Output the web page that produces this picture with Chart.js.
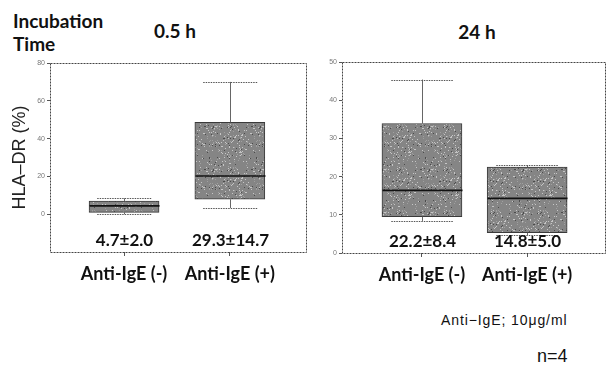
<!DOCTYPE html>
<html>
<head>
<meta charset="utf-8">
<script src="https://cdn.jsdelivr.net/npm/chart.js@4.4.1/dist/chart.umd.min.js"></script>
<style>
  body { margin: 0; background: #fff; width: 606px; height: 369px; position: relative; overflow: hidden; }
  .t { position: absolute; color: #111; white-space: nowrap; font-family: Lato, sans-serif; }
  .b { font-weight: bold; font-size: 19px; line-height: 23px; }
  canvas { position: absolute; top: 0; }
</style>
</head>
<body>
<div class="t b" style="left:13px;top:9px">Incubation<br>Time</div>
<div class="t b" style="left:125px;top:19px;width:100px;text-align:center">0.5 h</div>
<div class="t b" style="left:427px;top:20px;width:100px;text-align:center">24 h</div>
<div class="t" style="left:441px;top:312px;font-family:'Liberation Sans';font-size:14px;letter-spacing:0.9px">Anti&minus;IgE; 10&mu;g/ml</div>
<div class="t" style="left:537px;top:346px;font-family:'Liberation Sans';font-size:18px">n=4</div>
<canvas id="c1" width="310" height="300" style="left:0"></canvas>
<canvas id="c2" width="296" height="300" style="left:310px"></canvas>
<script>
const categories = ['Anti-IgE (-)', 'Anti-IgE (+)'];

// 0.5 h
const min05 = [0, 3.3];
const q1_05 = [1.0, 7.9];
const med05 = [4.4, 20.2];
const q3_05 = [7.0, 48.6];
const max05 = [8.4, 70];
const meanSd05 = ['4.7\u00b12.0', '29.3\u00b114.7'];
const yTicks05 = [0, 20, 40, 60, 80];

// 24 h
const min24 = [8.4, 4.7];
const q1_24 = [9.5, 5.3];
const med24 = [16.4, 14.3];
const q3_24 = [33.9, 22.5];
const max24 = [45.4, 23.0];
const meanSd24 = ['22.2\u00b18.4', '14.8\u00b15.0'];
const yTicks24 = [0, 10, 20, 30, 40, 50];

// grey speckled fill like the scanned boxes (fixed hash, no randomness)
function speckle() {
  const w = 47, hgt = 43;
  const p = document.createElement('canvas');
  p.width = w; p.height = hgt;
  const g = p.getContext('2d');
  g.fillStyle = '#858585';
  g.fillRect(0, 0, w, hgt);
  for (let i = 0; i < w; i++) {
    for (let j = 0; j < hgt; j++) {
      let h = Math.imul(i * 31 + j * 977 + 12345, 2654435761) >>> 0;
      h = ((h ^ (h >>> 15)) >>> 0) % 100;
      let c = null;
      if (h < 5) c = '#c6c6c6';
      else if (h < 8) c = '#4c4c4c';
      else if (h < 12) c = '#a0a0a0';
      if (c) { g.fillStyle = c; g.fillRect(i, j, 1, 1); }
    }
  }
  return g.createPattern(p, 'repeat');
}

// whiskers, medians, mean±SD notes and the dotted frame
function boxParts(mins, meds, maxs, notes) {
  return {
    id: 'boxParts',
    afterDatasetsDraw(chart) {
      const { ctx, chartArea: a, scales: { x, y } } = chart;
      const meta = chart.getDatasetMeta(0);
      ctx.save();
      meta.data.forEach((bar, i) => {
        const cx = Math.round(x.getPixelForValue(i)) + 0.5;
        const half = bar.width / 2;
        const cap = half * 0.78;
        const top = Math.min(bar.y, bar.base), bot = Math.max(bar.y, bar.base);
        // vertical whiskers
        ctx.setLineDash([]);
        ctx.strokeStyle = '#666';
        ctx.lineWidth = 1;
        ctx.beginPath();
        ctx.moveTo(cx, y.getPixelForValue(maxs[i])); ctx.lineTo(cx, top);
        ctx.moveTo(cx, bot); ctx.lineTo(cx, y.getPixelForValue(mins[i]));
        ctx.stroke();
        // caps
        ctx.setLineDash([1.5, 1]);
        ctx.strokeStyle = '#555';
        ctx.beginPath();
        [maxs[i], mins[i]].forEach(v => {
          const py = Math.round(y.getPixelForValue(v)) + 0.5;
          ctx.moveTo(cx - cap, py); ctx.lineTo(cx + cap, py);
        });
        ctx.stroke();
        // median
        ctx.setLineDash([]);
        ctx.strokeStyle = '#111';
        ctx.lineWidth = 1.6;
        ctx.beginPath();
        const my = y.getPixelForValue(meds[i]);
        ctx.moveTo(cx - half, my); ctx.lineTo(cx + half, my);
        ctx.stroke();
        // mean ± SD
        ctx.fillStyle = '#111';
        ctx.font = 'bold 17px Lato';
        ctx.textAlign = 'center';
        ctx.textBaseline = 'middle';
        ctx.fillText(notes[i], cx, a.bottom - 11);
      });
      // frame
      ctx.setLineDash([2, 1]);
      ctx.strokeStyle = '#444';
      ctx.lineWidth = 1;
      ctx.strokeRect(Math.round(a.left) + 0.5, Math.round(a.top) + 0.5,
        Math.round(a.right - a.left), Math.round(a.bottom - a.top));
      ctx.restore();
    }
  };
}

function makeChart(id, d) {
  const canvas = document.getElementById(id);
  const fill = speckle();
  return new Chart(canvas, {
    type: 'bar',
    data: {
      datasets: [{
        data: categories.map((c, i) => ({ x: i, y: [d.q1[i], d.q3[i]] })),
        backgroundColor: fill,
        borderColor: '#3a3a3a',
        borderWidth: 1,
        borderSkipped: false,
        barThickness: d.barW
      }]
    },
    options: {
      responsive: false,
      animation: false,
      layout: { padding: d.pad },
      plugins: { legend: { display: false }, tooltip: { enabled: false } },
      scales: {
        x: {
          type: 'linear',
          offset: false,
          min: d.xMin,
          max: d.xMax,
          afterBuildTicks: s => { s.ticks = categories.map((c, i) => ({ value: i })); },
          afterFit: s => { s.height = d.xH; },
          ticks: {
            callback: v => categories[v],
            autoSkip: false,
            maxRotation: 0,
            padding: 7,
            color: '#111',
            font: { family: 'Lato', weight: 'bold', size: 18 }
          },
          grid: { offset: false, drawOnChartArea: false, tickLength: 4, color: '#555' },
          border: { display: false }
        },
        y: {
          min: d.yMin,
          max: d.yMax,
          afterBuildTicks: s => { s.ticks = d.yTicks.map(v => ({ value: v })); },
          afterFit: s => { s.width = d.yW; },
          ticks: { padding: 2, color: '#777', font: { family: 'Liberation Sans', size: 7 } },
          grid: { drawOnChartArea: false, tickLength: 3, color: '#555' },
          border: { display: false },
          title: {
            display: d.yTitle !== '',
            text: d.yTitle,
            color: '#222',
            padding: { top: 9, bottom: 0 },
            font: { family: 'Liberation Sans', size: 18 }
          }
        }
      }
    },
    plugins: [boxParts(d.min, d.med, d.max, d.notes)]
  });
}

makeChart('c1', {
  min: min05, q1: q1_05, med: med05, q3: q3_05, max: max05, notes: meanSd05,
  yTicks: yTicks05, yMin: -20, yMax: 80, yTitle: 'HLA\u2013DR (%)',
  xMin: -0.7, xMax: 1.72, barW: 70, pad: { top: 63, right: 4, left: 0, bottom: 0 },
  yW: 50, xH: 48
});

makeChart('c2', {
  min: min24, q1: q1_24, med: med24, q3: q3_24, max: max24, notes: meanSd24,
  yTicks: yTicks24, yMin: 0, yMax: 50, yTitle: '',
  xMin: -0.76, xMax: 1.74, barW: 80, pad: { top: 62, right: 1, left: 0, bottom: 0 },
  yW: 32, xH: 47
});
</script>
</body>
</html>
